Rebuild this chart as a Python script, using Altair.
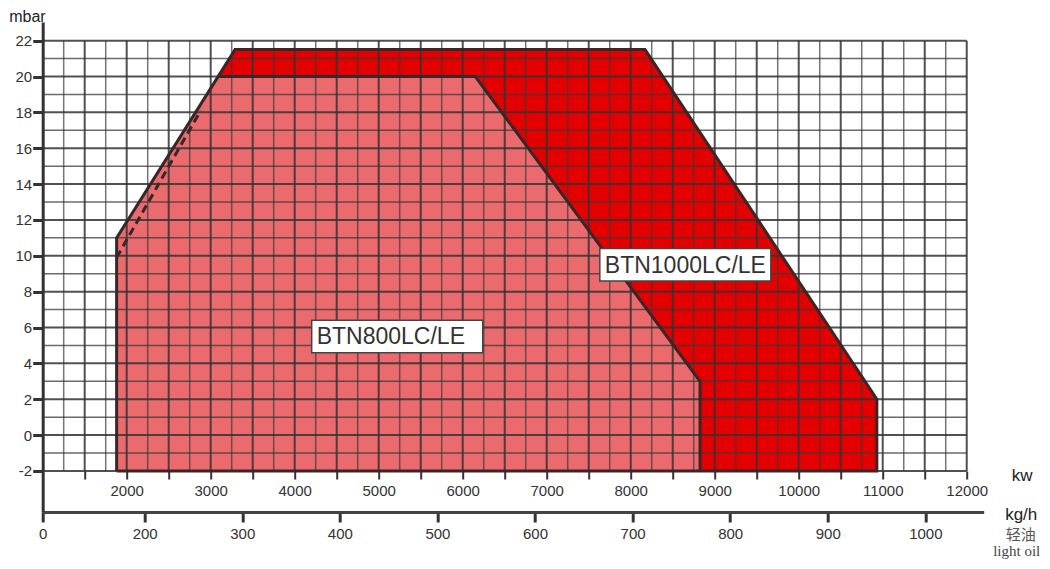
import altair as alt
import pandas as pd

FONT = "Liberation Sans"
INK = "#333333"

# ---- axes ----
Y_TICKS = list(range(-2, 23, 2))
Y_DOMAIN = [-4.29, 23.04]
KW_DOMAIN = [1000, 12202]
KW_TICKS = list(range(1500, 12001, 500))
KGH_DOMAIN = [95.5, 1059.8]
KGH_TICKS = [95.5, 200, 300, 400, 500, 600, 700, 800, 900, 1000]

# ---- grid ----
GRID_KW = list(range(1250, 12001, 250))
GRID_MBAR = list(range(-2, 23, 1))

# ---- envelopes (kW, mbar) ----
b1000_kw = [1880, 3290, 8170, 10930]
b1000_mbar = [11, 21.5, 21.5, 2]
b800_kw = [1880, 3090, 6150, 8825]
b800_mbar = [11, 20, 20, 3]
dash_kw = [1880, 2880]
dash_mbar = [9.9, 18.1]

labels = ["BTN800LC/LE", "BTN1000LC/LE"]
label_kw = [5220, 8650]
label_mbar = [5.5, 9.5]

W, H = 941, 490
PAD_L, PAD_T = 34.7, 14
PAD_R = 1034 - PAD_L - W
PAD_B = 553 - PAD_T - H
PX_PER_MBAR = H / (Y_DOMAIN[1] - Y_DOMAIN[0])
KW_OFFSET = -round((-2 - Y_DOMAIN[0]) * PX_PER_MBAR)

KW_AXIS = alt.Axis(
    orient="bottom", offset=KW_OFFSET, values=KW_TICKS, format="d",
    labelExpr="datum.value % 1000 === 0 ? datum.label : ''",
    domain=False, grid=False, tickSize=8, tickWidth=2, tickColor=INK,
    labelFont=FONT, labelFontSize=15, labelColor=INK, labelPadding=4,
    labelFlush=False, labelOverlap=False,
    title="kw", titleFont=FONT, titleFontSize=17, titleFontWeight="normal",
    titleColor="#222222", titleX=979, titleY=9, titleAlign="center",
    titleBaseline="alphabetic",
)
Y_AXIS = alt.Axis(
    values=Y_TICKS, labelExpr="toString(datum.value)", grid=False,
    domain=True, domainWidth=3, domainColor=INK, tickSize=10, tickWidth=3,
    tickColor=INK, labelPadding=1, labelFont=FONT, labelFontSize=15,
    labelColor=INK, title="mbar", titleAngle=0, titleX=-34, titleY=-1,
    titleAlign="left", titleBaseline="alphabetic", titleFont=FONT,
    titleFontSize=16, titleFontWeight="normal", titleColor="#222222",
)
KGH_AXIS = alt.Axis(
    orient="bottom", offset=0, values=KGH_TICKS,
    labelExpr="datum.value < 150 ? '0' : format(datum.value, 'd')",
    domain=True, domainWidth=3, domainColor="#444444", grid=False,
    tickSize=10, tickWidth=3, tickColor=INK, labelPadding=4,
    labelFont=FONT, labelFontSize=15, labelColor=INK,
    labelFlush=False, labelOverlap=False,
    title="kg/h", titleFont=FONT, titleFontSize=17, titleFontWeight="normal",
    titleColor="#222222", titleX=978, titleY=7, titleAlign="center",
    titleBaseline="alphabetic",
)

KW_SCALE = alt.Scale(domain=KW_DOMAIN, nice=False, zero=False)
Y_SCALE = alt.Scale(domain=Y_DOMAIN, nice=False, zero=False)


def X(field="kw"):
    return alt.X(field, type="quantitative", scale=KW_SCALE, axis=KW_AXIS)


def Y(field="mbar"):
    return alt.Y(field, type="quantitative", scale=Y_SCALE, axis=Y_AXIS)


df1000 = pd.DataFrame({"kw": b1000_kw, "mbar": b1000_mbar})
df800 = pd.DataFrame({"kw": b800_kw, "mbar": b800_mbar})

area1000 = alt.Chart(df1000).mark_area(color="#E40000", opacity=1).encode(
    x=X(), y=Y(), y2=alt.datum(-2))
area800 = alt.Chart(df800).mark_area(color="#EA6A6D", opacity=1).encode(
    x=X(), y=Y(), y2=alt.datum(-2))

gv = pd.DataFrame({"kw": GRID_KW})
gv["major"] = gv["kw"] % 500 == 0
gh = pd.DataFrame({"mbar": GRID_MBAR})
gh["major"] = gh["mbar"] % 2 == 0

grid_v_minor = alt.Chart(gv[~gv["major"]]).mark_rule(
    color="#3a3a3a", strokeWidth=1.5, opacity=0.7).encode(
    x=X(), y=alt.datum(-2), y2=alt.datum(22))
grid_v_major = alt.Chart(gv[gv["major"]]).mark_rule(
    color="#333333", strokeWidth=2, opacity=0.85).encode(
    x=X(), y=alt.datum(-2), y2=alt.datum(22))
grid_h_minor = alt.Chart(gh[~gh["major"]]).mark_rule(
    color="#3a3a3a", strokeWidth=1.5, opacity=0.75).encode(
    y=Y(), x=alt.datum(1000), x2=alt.datum(12000))
grid_h_major = alt.Chart(gh[gh["major"]]).mark_rule(
    color="#333333", strokeWidth=2, opacity=0.85).encode(
    y=Y(), x=alt.datum(1000), x2=alt.datum(12000))

o1000 = pd.DataFrame({
    "kw": [b1000_kw[0]] + b1000_kw + [b1000_kw[-1], b1000_kw[0]],
    "mbar": [-2] + b1000_mbar + [-2, -2],
})
o1000["i"] = range(len(o1000))
o800 = pd.DataFrame({
    "kw": b800_kw[1:] + [b800_kw[-1]],
    "mbar": b800_mbar[1:] + [-2],
})
o800["i"] = range(len(o800))

line1000 = alt.Chart(o1000).mark_line(color="#3a2626", strokeWidth=3).encode(
    x=X(), y=Y(), order="i:Q")
line800 = alt.Chart(o800).mark_line(color="#3a2626", strokeWidth=3).encode(
    x=X(), y=Y(), order="i:Q")
dash = alt.Chart(pd.DataFrame({"kw": dash_kw, "mbar": dash_mbar})).mark_line(
    color="#3a2626", strokeWidth=3, strokeDash=[8, 5]).encode(x=X(), y=Y())

lab = pd.DataFrame({"kw": label_kw, "mbar": label_mbar, "t": labels})
BOX_W, BOX_H = 171, 32.7
box_shape = "M-1,-{h}L1,-{h}L1,{h}L-1,{h}Z".format(h=round(BOX_H / BOX_W, 4))
boxes = alt.Chart(lab).mark_point(
    shape=box_shape, size=BOX_W ** 2, filled=True, fill="white",
    stroke="#444444", strokeWidth=1.5, opacity=1).encode(x=X(), y=Y())
texts = alt.Chart(lab).mark_text(
    font=FONT, fontSize=23, color="#333333", align="left", baseline="middle",
    dx=-80.5, dy=1).encode(x=X(), y=Y(), text="t:N")

cn = alt.Chart(pd.DataFrame({"t": ["轻油"]})).mark_text(
    font="Noto Sans CJK SC", fontSize=15, color="#555555", align="center",
    baseline="middle").encode(x=alt.value(978), y=alt.value(513), text="t:N")
en = alt.Chart(pd.DataFrame({"t": ["light oil"]})).mark_text(
    font="Liberation Serif", fontSize=15, color="#444444", align="center",
    baseline="alphabetic").encode(x=alt.value(974), y=alt.value(534), text="t:N")

kw_layer = alt.layer(
    area1000, area800,
    grid_v_minor, grid_h_minor, grid_v_major, grid_h_major,
    line1000, line800, dash, boxes, texts, cn, en,
)

kgh_layer = alt.Chart(pd.DataFrame({"kgh": KGH_TICKS})).mark_tick(opacity=0).encode(
    x=alt.X("kgh:Q", scale=alt.Scale(domain=KGH_DOMAIN, nice=False, zero=False),
            axis=KGH_AXIS))

chart = alt.layer(kw_layer, kgh_layer).resolve_scale(x="independent").resolve_axis(
    x="independent").properties(
    width=W, height=H,
    autosize=alt.AutoSizeParams(type="none"),
    padding={"left": PAD_L, "top": PAD_T, "right": PAD_R, "bottom": PAD_B},
    background="white",
).configure_view(stroke=None)

chart.save("out.html", embed_options={"renderer": "svg", "actions": False})
